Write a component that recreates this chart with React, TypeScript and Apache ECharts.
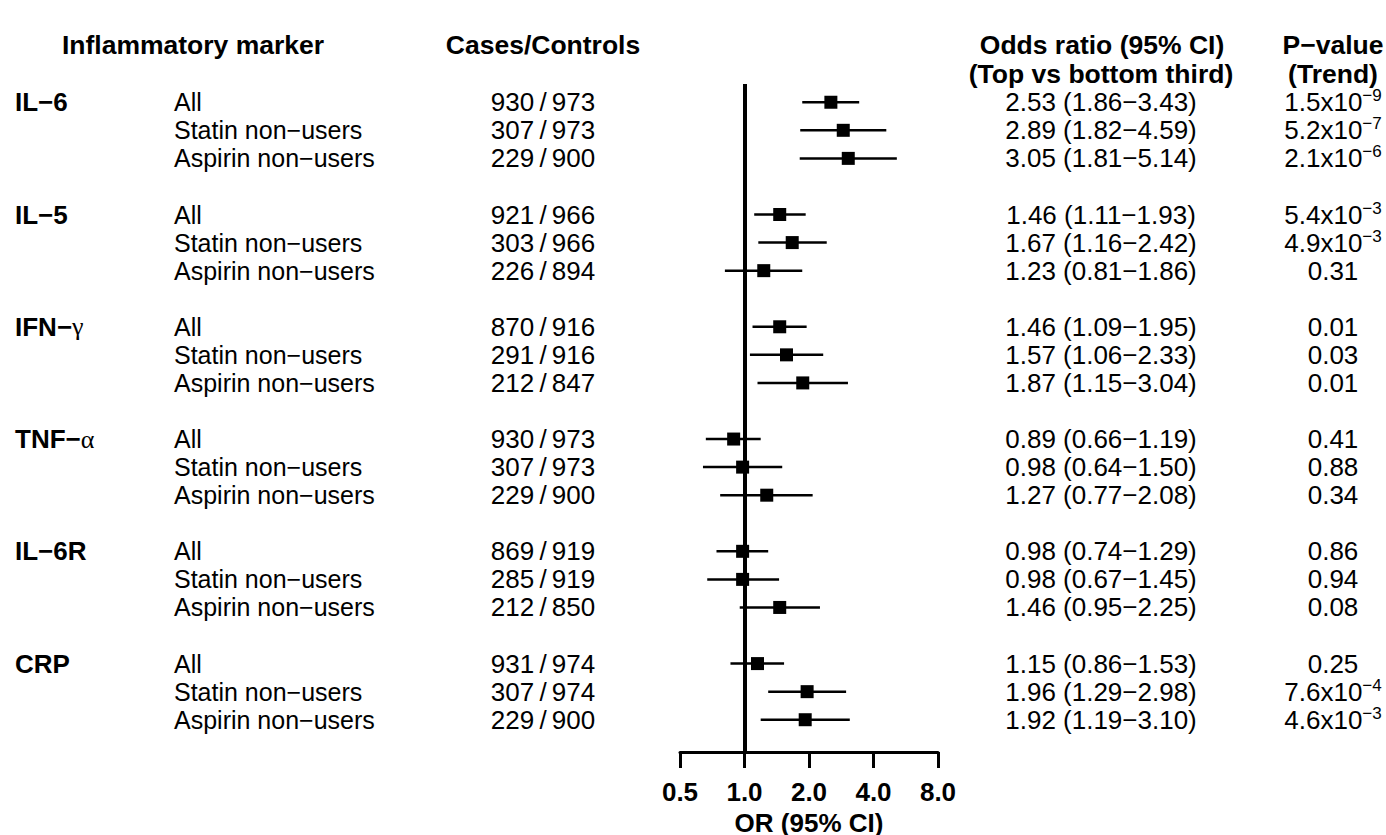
import React, { useEffect, useRef } from "react";
import * as echarts from "echarts";

const markers = ["IL−6", "IL−5", "IFN−γ", "TNF−α", "IL−6R", "CRP"];
const subgroups = ["All", "Statin non−users", "Aspirin non−users"];
const cases = [[930, 307, 229], [921, 303, 226], [870, 291, 212], [930, 307, 229], [869, 285, 212], [931, 307, 229]];
const controls = [[973, 973, 900], [966, 966, 894], [916, 916, 847], [973, 973, 900], [919, 919, 850], [974, 974, 900]];
const oddsRatio = [[2.53, 2.89, 3.05], [1.46, 1.67, 1.23], [1.46, 1.57, 1.87], [0.89, 0.98, 1.27], [0.98, 0.98, 1.46], [1.15, 1.96, 1.92]];
const ciLow = [[1.86, 1.82, 1.81], [1.11, 1.16, 0.81], [1.09, 1.06, 1.15], [0.66, 0.64, 0.77], [0.74, 0.67, 0.95], [0.86, 1.29, 1.19]];
const ciHigh = [[3.43, 4.59, 5.14], [1.93, 2.42, 1.86], [1.95, 2.33, 3.04], [1.19, 1.50, 2.08], [1.29, 1.45, 2.25], [1.53, 2.98, 3.10]];
const pMantissa = [["1.5x10", "5.2x10", "2.1x10"], ["5.4x10", "4.9x10", "0.31"], ["0.01", "0.03", "0.01"], ["0.41", "0.88", "0.34"], ["0.86", "0.94", "0.08"], ["0.25", "7.6x10", "4.6x10"]];
const pExponent = [["−9", "−7", "−6"], ["−3", "−3", ""], ["", "", ""], ["", "", ""], ["", "", ""], ["", "−4", "−3"]];
const xTicks = [0.5, 1, 2, 4, 8];

const FONT = "'Liberation Sans', Arial, Helvetica, sans-serif";

export default function App() {
  const ref = useRef<HTMLDivElement>(null);
  useEffect(() => {
    if (!ref.current) return;
    const chart = echarts.init(ref.current, null, { renderer: "svg" });

    const rows: any[] = [];
    markers.forEach((m, i) => {
      subgroups.forEach((s, j) => {
        rows.push({ i, j, row: i * 4 + j });
      });
    });

    const textData = rows.map((r) => [1, r.row, r.i, r.j]);
    const ciData = rows.map((r) => [ciLow[r.i][r.j], ciHigh[r.i][r.j], r.row]);
    const pointData = rows.map((r) => [oddsRatio[r.i][r.j], r.row]);

    const txt = (x: number, y: number, text: string, align: string, bold = false, extra: any = {}) => ({
      type: "text",
      x,
      y,
      silent: true,
      style: {
        text,
        fill: "#000",
        fontFamily: FONT,
        fontSize: 26,
        fontWeight: bold ? "bold" : "normal",
        align,
        verticalAlign: "middle",
        ...extra,
      },
    });

    const option: any = {
      animation: false,
      backgroundColor: "#fff",
      grid: {
        left: 680,
        right: 1386 - 938,
        top: 84,
        bottom: 835 - 752,
        containLabel: false,
        outerBoundsMode: "none",
      },
      xAxis: {
        type: "log",
        logBase: 2,
        min: 0.5,
        max: 8,
        position: "bottom",
        splitLine: { show: false },
        axisLine: { show: true, onZero: false, lineStyle: { color: "#000", width: 3 } },
        axisTick: { show: true, length: 16, lineStyle: { color: "#000", width: 3 } },
        axisLabel: {
          color: "#000",
          fontFamily: FONT,
          fontSize: 26,
          fontWeight: "bold",
          margin: 27,
          formatter: (v: number) => (xTicks.includes(Number(v.toPrecision(6))) ? Number(v).toFixed(1) : ""),
        },
        name: "OR (95% CI)",
        nameLocation: "middle",
        nameGap: 57,
        nameTextStyle: { color: "#000", fontFamily: FONT, fontSize: 26, fontWeight: "bold" },
      },
      yAxis: {
        type: "value",
        inverse: true,
        min: -0.65,
        max: 23.15,
        show: false,
      },
      graphic: [
        txt(193, 45, "Inflammatory marker", "center", true, { fontSize: 26.5 }),
        txt(543, 45, "Cases/Controls", "center", true, { fontSize: 26.5 }),
        txt(1102, 45, "Odds ratio (95% CI)", "center", true, { fontSize: 26.5 }),
        txt(1101, 74, "(Top vs bottom third)", "center", true, { fontSize: 26.5 }),
        txt(1333, 45, "P−value", "center", true, { fontSize: 26.5 }),
        txt(1333, 74, "(Trend)", "center", true, { fontSize: 26.5 }),
      ],
      series: [
        {
          type: "custom",
          coordinateSystem: "cartesian2d",
          clip: false,
          silent: true,
          data: textData,
          encode: { x: 0, y: 1 },
          renderItem: (params: any, api: any) => {
            const row = api.value(1);
            const i = api.value(2);
            const j = api.value(3);
            const y = api.coord([1, row])[1];
            const children: any[] = [];
            if (j === 0) {
              const name = markers[i];
              const greek = name.endsWith("γ") || name.endsWith("α");
              if (greek) {
                children.push(
                  txt(15, y, `{b|${name.slice(0, -1)}}{g|${name.slice(-1)}}`, "left", true, {
                    rich: {
                      b: { fontFamily: FONT, fontSize: 26, fontWeight: "bold", fill: "#000" },
                      g: { fontFamily: "'Liberation Serif', 'DejaVu Serif', serif", fontSize: 26, fontWeight: "normal", fill: "#000" },
                    },
                  })
                );
              } else {
                children.push(txt(15, y, name, "left", true));
              }
            }
            children.push(txt(174, y, subgroups[j], "left", false, { fontSize: 25 }));
            children.push(txt(543, y, `${cases[i][j]}\u2009/\u2009${controls[i][j]}`, "center"));
            children.push(
              txt(1101, y, `${oddsRatio[i][j].toFixed(2)} (${ciLow[i][j].toFixed(2)}−${ciHigh[i][j].toFixed(2)})`, "center")
            );
            const exp = pExponent[i][j];
            if (exp) {
              children.push(
                txt(1333, y, `{n|${pMantissa[i][j]}}{s|${exp}}`, "center", false, {
                  rich: {
                    n: { fontFamily: FONT, fontSize: 26, fill: "#000", lineHeight: 30 },
                    s: { fontFamily: FONT, fontSize: 17, fill: "#000", verticalAlign: "top", lineHeight: 18 },
                  },
                })
              );
            } else {
              children.push(txt(1333, y, pMantissa[i][j], "center"));
            }
            return { type: "group", children };
          },
        },
        {
          type: "custom",
          coordinateSystem: "cartesian2d",
          clip: false,
          silent: true,
          data: ciData,
          encode: { x: [0, 1], y: 2 },
          renderItem: (params: any, api: any) => {
            const a = api.coord([api.value(0), api.value(2)]);
            const b = api.coord([api.value(1), api.value(2)]);
            return {
              type: "line",
              shape: { x1: a[0], y1: a[1], x2: b[0], y2: b[1] },
              style: { stroke: "#000", lineWidth: 2.5 },
            };
          },
          markLine: {
            silent: true,
            symbol: "none",
            label: { show: false },
            lineStyle: { color: "#000", width: 4, type: "solid" },
            data: [{ xAxis: 1 }],
          },
        },
        {
          type: "scatter",
          silent: true,
          symbol: "rect",
          symbolSize: 13,
          itemStyle: { color: "#000", opacity: 1 },
          data: pointData,
        },
      ],
    };
    chart.setOption(option);
    return () => chart.dispose();
  }, []);
  return <div ref={ref} style={{ position: "fixed", left: 0, top: 0, width: 1386, height: 835 }} />;
}
